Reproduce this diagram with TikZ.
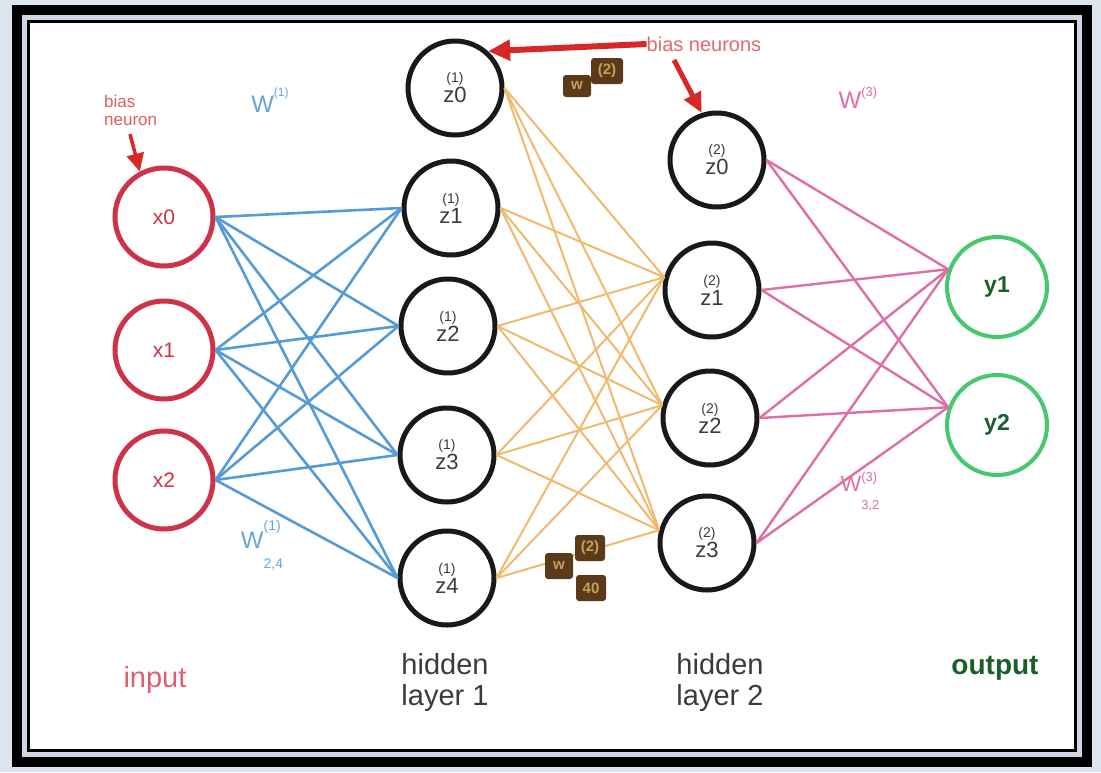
\documentclass[tikz,border=0pt]{standalone}
\usepackage{fontspec}
\setmainfont{Liberation Sans}
\usetikzlibrary{arrows.meta}
\definecolor{bgout}{RGB}{221,229,238}
\definecolor{gapgray}{RGB}{205,214,226}
\definecolor{inred}{RGB}{205,50,72}
\definecolor{intext}{RGB}{225,95,115}
\definecolor{wblue}{RGB}{85,155,215}
\definecolor{worange}{RGB}{240,185,110}
\definecolor{wpink}{RGB}{222,110,165}
\definecolor{outgreen}{RGB}{70,200,110}
\definecolor{dkgreen}{RGB}{25,95,40}
\definecolor{wbrown}{RGB}{90,58,25}
\definecolor{wtan}{RGB}{200,160,90}
\definecolor{biasred}{RGB}{215,40,40}
\definecolor{nodeblack}{RGB}{25,25,25}
\newcommand{\fsz}[1]{\fontsize{#1}{#1}\selectfont}
\begin{document}
\begin{tikzpicture}[x=1pt,y=-1pt,
  neuron/.style={circle,minimum size=98pt,inner sep=0pt,line width=5pt},
  inneuron/.style={neuron,draw=inred,text=inred,font=\fsz{21}},
  hidneuron/.style={neuron,minimum size=94pt,draw=nodeblack,text=nodeblack!85,font=\fsz{22},align=center},
  outneuron/.style={neuron,minimum size=100pt,line width=4pt,draw=outgreen,text=dkgreen,font=\fsz{23}\bfseries},
  blueedge/.style={draw=wblue,line width=2.6pt},
  orangeedge/.style={draw=worange,line width=2pt},
  pinkedge/.style={draw=wpink,line width=2.4pt},
  biasarrow/.style={draw=biasred,line width=5pt,-{Triangle[length=20pt,width=18pt]}},
  biaslabel/.style={text=biasred!85,font=\fsz{20},inner sep=0pt},
  brownbox/.style={fill=wbrown,text=wtan,rounded corners=3pt,inner sep=1pt,font=\fsz{15}\bfseries},
  layerlabel/.style={font=\fsz{29},align=center,inner sep=0pt}]
\useasboundingbox (0,0) rectangle (1101,772);
% frame
\fill[bgout] (0,0) rectangle (1101,772);
\fill[black] (12,5) rectangle (1092,767);
\fill[gapgray] (22,15) rectangle (1082,757);
\fill[black] (27,20) rectangle (1077,752);
\fill[white] (30,23) rectangle (1074,749);
% neurons
\node[inneuron] (x0) at (164,217) {x0};
\node[inneuron] (x1) at (164,350) {x1};
\node[inneuron] (x2) at (164,480) {x2};
\node[hidneuron] (h10) at (455,88) {{\fsz{14}(1)}\\[-2pt]z0};
\node[hidneuron] (h11) at (451,208) {{\fsz{14}(1)}\\[-2pt]z1};
\node[hidneuron] (h12) at (448,326) {{\fsz{14}(1)}\\[-2pt]z2};
\node[hidneuron] (h13) at (447,455) {{\fsz{14}(1)}\\[-2pt]z3};
\node[hidneuron] (h14) at (447,578) {{\fsz{14}(1)}\\[-2pt]z4};
\node[hidneuron] (h20) at (717,160) {{\fsz{14}(2)}\\[-2pt]z0};
\node[hidneuron] (h21) at (712,290) {{\fsz{14}(2)}\\[-2pt]z1};
\node[hidneuron] (h22) at (710,418) {{\fsz{14}(2)}\\[-2pt]z2};
\node[hidneuron] (h23) at (707,543) {{\fsz{14}(2)}\\[-2pt]z3};
\node[outneuron] (y1) at (997,287) {y1};
\node[outneuron] (y2) at (997,425) {y2};
% connections
\foreach \i in {0,1,2}{
  \foreach \j in {1,2,3,4}{
    \draw[blueedge] (x\i.east) -- (h1\j.west);
  }
}
\foreach \i in {0,1,2,3,4}{
  \foreach \j in {1,2,3}{
    \draw[orangeedge] (h1\i.east) -- (h2\j.165);
  }
}
\foreach \i in {0,1,2,3}{
  \foreach \j in {1,2}{
    \draw[pinkedge] (h2\i.east) -- (y\j.160);
  }
}
% bias labels and arrows
\node[biaslabel,anchor=west,align=left,font=\fsz{17},text=biasred!75] (biasL) at (104,110) {bias\\[1pt]neuron};
\coordinate (bLs) at (130,134);
\draw[biasarrow,line width=3.5pt,-{Triangle[length=18pt,width=17pt]}] (bLs) -- (x0.118);
\node[biaslabel,text=biasred!70] (biasT) at (704,44) {bias neurons};
\coordinate (bTs) at (674,60);
\draw[biasarrow,line width=6pt,-{Triangle[length=22pt,width=20pt]}] (biasT.west) -- (h10.48);
\draw[biasarrow] (bTs) -- (h20.108);
% weight labels
\node[text=wblue!90,font=\fsz{24},inner sep=0pt] (W1) at (270,100) {W\raisebox{16pt}{\fsz{12}(1)}};
\node[text=wblue!90,font=\fsz{24},inner sep=0pt] (W1b) at (262,545) {W\rlap{\raisebox{18pt}{\fsz{14}(1)}}\raisebox{-20pt}{\fsz{14}2,4}};
\node[text=wpink,font=\fsz{24},inner sep=0pt] (W3) at (858,98) {W\raisebox{12pt}{\fsz{13}(3)}};
\node[text=wpink,font=\fsz{22},inner sep=0pt] (W3b) at (860,492) {W\rlap{\raisebox{10pt}{\fsz{13}(3)}}\raisebox{-18pt}{\fsz{13}3,2}};
\node[brownbox,minimum width=28pt,minimum height=22pt] (wa) at (577,86) {w};
\node[brownbox,minimum width=32pt,minimum height=26pt] (wb) at (607,71) {(2)};
\node[brownbox,minimum width=28pt,minimum height=26pt] (wc) at (559,566) {w};
\node[brownbox,minimum width=30pt,minimum height=26pt] (wd) at (590,548) {(2)};
\node[brownbox,minimum width=30pt,minimum height=26pt] (we) at (591,588) {40};
% layer labels
\node[layerlabel,text=intext] (linput) at (155,680) {input};
\node[layerlabel,text=nodeblack!85] (lh1) at (445,682) {hidden\\[2pt]layer 1};
\node[layerlabel,text=nodeblack!85] (lh2) at (720,682) {hidden\\[2pt]layer 2};
\node[layerlabel,text=dkgreen,font=\fsz{28}\bfseries] (lout) at (995,668) {output};
\end{tikzpicture}
\end{document}
